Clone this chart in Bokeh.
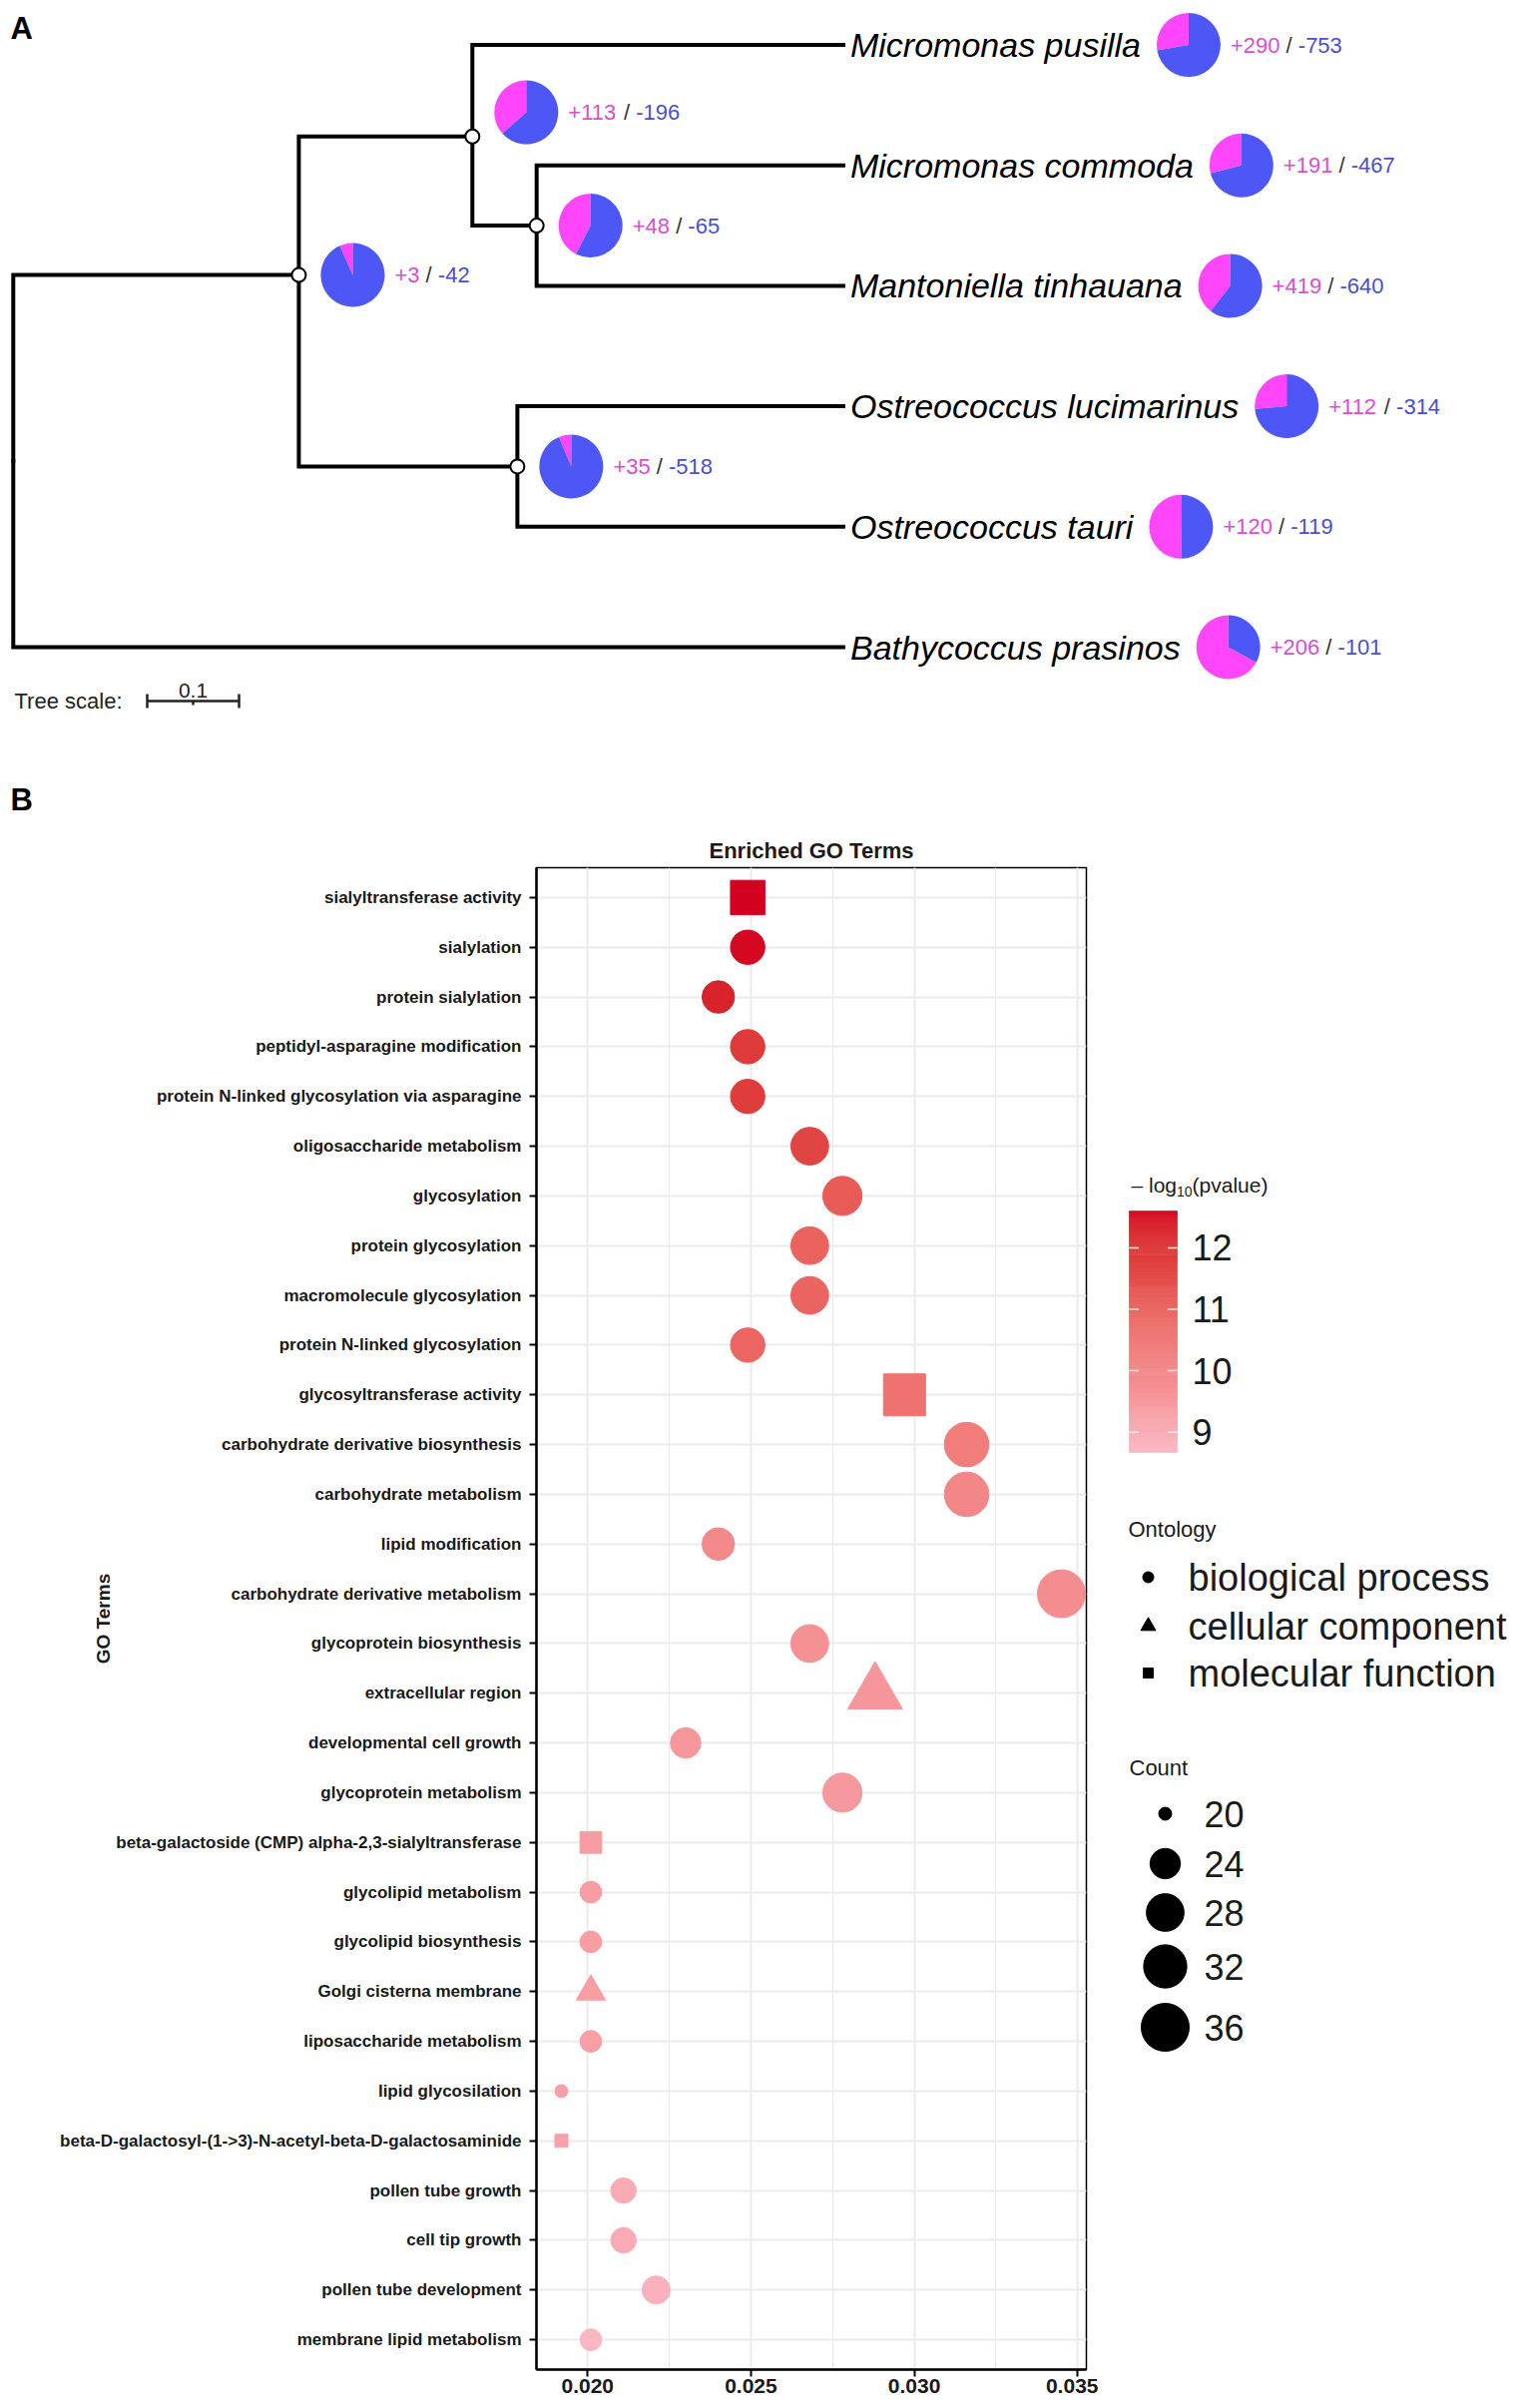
import math
import numpy as np
from bokeh.plotting import figure
from bokeh.models import (Range1d, FactorRange, LinearColorMapper, ColumnDataSource,
                          SingleIntervalTicker, NumeralTickFormatter)
from bokeh.layouts import column, row
from bokeh.transform import transform
from bokeh.core.properties import value
from bokeh.embed import file_html
from bokeh.resources import INLINE

FONT = "Liberation Sans"

# ======================= Panel A data =======================
tip_names = ["Micromonas pusilla", "Micromonas commoda", "Mantoniella tinhauana",
             "Ostreococcus lucimarinus", "Ostreococcus tauri", "Bathycoccus prasinos"]
tip_gain = [290, 191, 419, 112, 120, 206]
tip_loss = [753, 467, 640, 314, 119, 101]
tip_depth = [0.904, 0.904, 0.904, 0.904, 0.904, 0.904]
tip_row = [0, 1, 2, 3, 4, 5]

node_names = ["N1", "N2", "N3", "N4"]
node_gain = [3, 113, 48, 35]
node_loss = [42, 196, 65, 518]
node_depth = [0.311, 0.500, 0.570, 0.549]
node_row = [1.91, 0.76, 1.50, 3.50]
node_pie_dy = [0.0, -0.20, 0.0, 0.0]

parent = {"N1": "root", "N2": "N1", "N3": "N2", "N4": "N1",
          "Micromonas pusilla": "N2", "Micromonas commoda": "N3",
          "Mantoniella tinhauana": "N3", "Ostreococcus lucimarinus": "N4",
          "Ostreococcus tauri": "N4", "Bathycoccus prasinos": "root"}
tree_scale_value = 0.1

# ======================= Panel B data =======================
terms = ["sialyltransferase activity", "sialylation", "protein sialylation",
         "peptidyl-asparagine modification", "protein N-linked glycosylation via asparagine",
         "oligosaccharide metabolism", "glycosylation", "protein glycosylation",
         "macromolecule glycosylation", "protein N-linked glycosylation",
         "glycosyltransferase activity", "carbohydrate derivative biosynthesis",
         "carbohydrate metabolism", "lipid modification", "carbohydrate derivative metabolism",
         "glycoprotein biosynthesis", "extracellular region", "developmental cell growth",
         "glycoprotein metabolism", "beta-galactoside (CMP) alpha-2,3-sialyltransferase",
         "glycolipid metabolism", "glycolipid biosynthesis", "Golgi cisterna membrane",
         "liposaccharide metabolism", "lipid glycosilation",
         "beta-D-galactosyl-(1->3)-N-acetyl-beta-D-galactosaminide",
         "pollen tube growth", "cell tip growth", "pollen tube development",
         "membrane lipid metabolism"]
gene_ratio = [0.0249, 0.0249, 0.0240, 0.0249, 0.0249, 0.0268, 0.0278, 0.0268, 0.0268, 0.0249,
              0.0297, 0.0316, 0.0316, 0.0240, 0.0345, 0.0268, 0.0288, 0.0230, 0.0278, 0.0201,
              0.0201, 0.0201, 0.0201, 0.0201, 0.0192, 0.0192, 0.0211, 0.0211, 0.0221, 0.0201]
count = [26, 26, 25, 26, 26, 28, 29, 28, 28, 26,
         31, 33, 33, 25, 36, 28, 30, 24, 29, 21,
         21, 21, 21, 21, 20, 20, 22, 22, 23, 21]
neglog_p = [12.60, 12.55, 12.30, 11.90, 11.85, 11.70, 11.20, 11.00, 10.95, 10.90,
            10.60, 10.30, 10.05, 9.95, 9.85, 9.75, 9.60, 9.55, 9.50, 9.42,
            9.40, 9.38, 9.36, 9.34, 9.30, 9.28, 9.00, 8.98, 8.80, 8.67]
BP, CC, MF = "biological process", "cellular component", "molecular function"
ontology = [MF, BP, BP, BP, BP, BP, BP, BP, BP, BP,
            MF, BP, BP, BP, BP, BP, CC, BP, BP, MF,
            BP, BP, CC, BP, BP, MF, BP, BP, BP, BP]
ontology_levels = [BP, CC, MF]
colorbar_ticks = [9, 10, 11, 12]
count_breaks = [20, 24, 28, 32, 36]

# ======================= helpers =======================
ARIAL = {' ': 278, '+': 584, '-': 333, '/': 278, '(': 333, ')': 333, '–': 556, '.': 278,
         ':': 278, ',': 278}
for ch in "0123456789":
    ARIAL[ch] = 556
for ch, w in zip("abcdefghijklmnopqrstuvwxyz",
                 [556, 556, 500, 556, 556, 278, 556, 556, 222, 222, 500, 222, 833, 556, 556,
                  556, 556, 333, 500, 278, 556, 500, 722, 500, 500, 500]):
    ARIAL[ch] = w
for ch, w in zip("ABCDEFGHIJKLMNOPQRSTUVWXYZ",
                 [667, 667, 722, 722, 667, 611, 778, 722, 278, 500, 667, 556, 833, 722, 778,
                  667, 778, 722, 667, 611, 722, 667, 944, 667, 667, 611]):
    ARIAL[ch] = w


def tw(s, size):
    return sum(ARIAL.get(c, 556) for c in s) / 1000.0 * size


def _lin(c):
    c = c / 255.0
    return c / 12.92 if c <= 0.04045 else ((c + 0.055) / 1.055) ** 2.4


def _gam(c):
    c = 12.92 * c if c <= 0.0031308 else 1.055 * c ** (1 / 2.4) - 0.055
    return int(round(min(max(c, 0), 1) * 255))


M = np.array([[0.4124, 0.3576, 0.1805], [0.2126, 0.7152, 0.0722], [0.0193, 0.1192, 0.9505]])
Minv = np.linalg.inv(M)
WHITE = np.array([0.95047, 1.0, 1.08883])


def hex2lab(h):
    rgb = np.array([_lin(int(h[i:i + 2], 16)) for i in (1, 3, 5)])
    xyz = M @ rgb / WHITE
    f = np.where(xyz > 0.008856, np.cbrt(xyz), 7.787 * xyz + 16 / 116)
    return np.array([116 * f[1] - 16, 500 * (f[0] - f[1]), 200 * (f[1] - f[2])])


def lab2hex(lab):
    fy = (lab[0] + 16) / 116
    fx = fy + lab[1] / 500
    fz = fy - lab[2] / 200
    f = np.array([fx, fy, fz])
    xyz = np.where(f ** 3 > 0.008856, f ** 3, (f - 16 / 116) / 7.787) * WHITE
    rgb = Minv @ xyz
    return "#%02x%02x%02x" % tuple(_gam(c) for c in rgb)


LOW_COL, HIGH_COL = "#F9B6C3", "#D4001F"
la, lb = hex2lab(LOW_COL), hex2lab(HIGH_COL)
palette = [lab2hex(la + (lb - la) * t) for t in np.linspace(0, 1, 256)]
vmin, vmax = min(neglog_p), max(neglog_p)
mapper = LinearColorMapper(palette=palette, low=vmin, high=vmax)

cmin, cmax = min(count), max(count)


def size_of(c):
    return 13 + 35 * math.sqrt((c - cmin) / (cmax - cmin))


marker_of = {BP: "circle", CC: "triangle", MF: "square"}
marker_scale = {"circle": 1.0, "square": 1.0, "triangle": 1.35}

PINK, BLUE = "#FF46FA", "#4C57F5"
TPINK, TBLUE = "#D94ED3", "#4B4FCB"
INK = "#1a1a1a"

# ======================= Panel A figure =======================
WA, HA = 1535, 818
PXU, PXR = 920.0, 120.7            # pixels per tree unit / per row
xa0 = -12.8 / PXU
ya1 = 44.5 / PXR
pA = figure(width=WA, height=HA, output_backend="svg", toolbar_location=None,
            x_range=Range1d(xa0, xa0 + WA / PXU), y_range=Range1d(ya1 - HA / PXR, ya1),
            x_axis_type=None, y_axis_type=None, min_border=0)
pA.outline_line_color = None
pA.grid.visible = False


def rx(px):
    return xa0 + px / PXU


def ry(py):
    return ya1 - py / PXR


depth = {"root": 0.0}
rows = {}
for n, d, r in zip(node_names, node_depth, node_row):
    depth[n], rows[n] = d, r
for n, d, r in zip(tip_names, tip_depth, tip_row):
    depth[n], rows[n] = d, r
rows["root"] = (rows["N1"] + rows["Bathycoccus prasinos"]) / 2

xs, ys = [], []
for child, par in parent.items():
    xs.append([depth[par], depth[par], depth[child]])
    ys.append([-rows[par], -rows[child], -rows[child]])
pA.multi_line(xs, ys, line_color="black", line_width=4, line_join="miter", line_cap="square")

pA.scatter(node_depth, [-r for r in node_row], size=14, fill_color="white",
           line_color="black", line_width=2)

pA.text(tip_depth, [-r for r in tip_row], text=tip_names, x_offset=7,
        text_font=value(FONT), text_font_style="italic", text_font_size="34px",
        text_baseline="middle", text_align="left", text_color="black")

pie_x = [d + (7 + tw(n, 34) + 48) / PXU for d, n in zip(tip_depth, tip_names)]
pie_y = [-r for r in tip_row]
pie_g, pie_l = list(tip_gain), list(tip_loss)
pie_x += [d + 54 / PXU for d in node_depth]
pie_y += [-(r + dy) for r, dy in zip(node_row, node_pie_dy)]
pie_g += node_gain
pie_l += node_loss
frac = [g / (g + l) for g, l in zip(pie_g, pie_l)]
a_mid = [math.pi / 2 + 2 * math.pi * f for f in frac]
pie_src = ColumnDataSource(dict(x=pie_x, y=pie_y, a0=[math.pi / 2] * len(frac), a1=a_mid,
                                a2=[math.pi / 2 + 2 * math.pi] * len(frac)))
pA.wedge(x="x", y="y", radius=32, radius_units="screen", start_angle="a0", end_angle="a1",
         direction="anticlock", fill_color=PINK, line_color=None, source=pie_src)
pA.wedge(x="x", y="y", radius=32, radius_units="screen", start_angle="a1", end_angle="a2",
         direction="anticlock", fill_color=BLUE, line_color=None, source=pie_src)

gs = ["+%d" % g for g in pie_g]
ls = ["-%d" % l for l in pie_l]
FS = 22
off_g = [42] * len(gs)
off_s = [42 + tw(g + " ", FS) for g in gs]
off_l = [42 + tw(g + " / ", FS) for g in gs]
lab_src = ColumnDataSource(dict(x=pie_x, y=pie_y, g=gs, l=ls, s=["/"] * len(gs),
                                og=off_g, os=off_s, ol=off_l))
common = dict(text_font=value(FONT), text_font_size="%dpx" % FS, text_baseline="middle",
              text_align="left", source=lab_src)
pA.text(x="x", y="y", text="g", x_offset="og", text_color=TPINK, **common)
pA.text(x="x", y="y", text="s", x_offset="os", text_color="#333333", **common)
pA.text(x="x", y="y", text="l", x_offset="ol", text_color=TBLUE, **common)

pA.text([rx(10)], [ry(28)], text=["A"], text_font=value(FONT), text_font_style="bold",
        text_font_size="31px", text_baseline="middle", text_color="black")
pA.text([rx(10)], [ry(801)], text=["B"], text_font=value(FONT), text_font_style="bold",
        text_font_size="31px", text_baseline="middle", text_color="black")
pA.text([rx(14)], [ry(702)], text=["Tree scale:"], text_font=value(FONT),
        text_font_size="22px", text_baseline="middle", text_color="#222222")
sb0 = rx(147)
sby = ry(702)
tk = 7 / PXR
pA.segment([sb0, sb0, sb0 + tree_scale_value, sb0 + tree_scale_value / 2],
           [sby, sby - tk, sby - tk, sby],
           [sb0 + tree_scale_value, sb0, sb0 + tree_scale_value, sb0 + tree_scale_value / 2],
           [sby, sby + tk, sby + tk, sby - 4 / PXR], line_color="#222222", line_width=2.5)
pA.text([sb0 + tree_scale_value / 2], [sby], text=["%g" % tree_scale_value], y_offset=-4,
        text_font=value(FONT), text_font_size="21px", text_baseline="bottom",
        text_align="center", text_color="#222222")

# ======================= Panel B figure =======================
TOPB = HA
WB, HB = 1100, 2413 - HA
BT, BB = 869 - TOPB, 2413 - 2374          # top / bottom borders (frame 869..2374)
span = max(gene_ratio) - min(gene_ratio)
x_lo, x_hi = min(gene_ratio) - 0.05 * span, max(gene_ratio) + 0.05 * span
markers = [marker_of[o] for o in ontology]
sizes = [size_of(c) * marker_scale[m] for c, m in zip(count, markers)]
src = ColumnDataSource(dict(term=terms, ratio=gene_ratio, count=count, logp=neglog_p,
                            ont=ontology, marker=markers, size=sizes))

pB = figure(width=WB, height=HB, output_backend="svg", toolbar_location=None,
            x_range=Range1d(x_lo, x_hi),
            y_range=FactorRange(factors=list(reversed(terms)), range_padding=0.1,
                                range_padding_units="absolute"),
            min_border_left=537, min_border_right=12, min_border_top=BT,
            min_border_bottom=BB, title="Enriched GO Terms")
pB.title.align = "center"
pB.title.text_font = FONT
pB.title.text_font_size = "22px"
pB.title.text_font_style = "bold"
pB.title.text_color = INK
pB.title.standoff = 10
pB.outline_line_color = "black"
pB.outline_line_width = 1.5

pB.xaxis.ticker = SingleIntervalTicker(interval=0.005, num_minor_ticks=2)
pB.xaxis.formatter = NumeralTickFormatter(format="0.000")
for ax in (pB.xaxis[0], pB.yaxis[0]):
    ax.axis_line_width = 2.5
    ax.axis_line_color = "black"
    ax.major_tick_line_color = "black"
    ax.major_tick_line_width = 2
    ax.major_tick_out = 7
    ax.major_tick_in = 0
    ax.minor_tick_line_color = None
    ax.major_label_text_font = FONT
    ax.major_label_text_font_style = "bold"
    ax.major_label_text_color = INK
pB.xaxis.major_label_text_font_size = "21px"
pB.xaxis.major_label_standoff = 2
pB.yaxis.major_label_text_font_size = "17px"
pB.yaxis.major_label_standoff = 8
pB.yaxis.axis_label = "GO Terms"
pB.yaxis.axis_label_text_font = FONT
pB.yaxis.axis_label_text_font_size = "19px"
pB.yaxis.axis_label_text_font_style = "bold"
pB.yaxis.axis_label_text_color = INK
pB.yaxis.axis_label_standoff = -57

pB.xgrid.grid_line_color = "#EBEBEB"
pB.xgrid.grid_line_width = 2
pB.xgrid.minor_grid_line_color = "#EBEBEB"
pB.xgrid.minor_grid_line_width = 1
pB.ygrid.grid_line_color = "#EBEBEB"
pB.ygrid.grid_line_width = 2

pB.scatter(x="ratio", y="term", source=src, marker="marker", size="size",
           fill_color=transform("logp", mapper), line_color=transform("logp", mapper),
           line_width=1)

# ======================= Legend figure (reference pixel frame) =======================
WL = 1535 - WB
FR_T, FR_B = 869, 2374
L = figure(width=WL, height=HB, output_backend="svg", toolbar_location=None,
           x_range=Range1d(1100, 1535), y_range=Range1d(FR_B, FR_T),
           x_axis_type=None, y_axis_type=None, min_border_left=0, min_border_right=0,
           min_border_top=BT, min_border_bottom=BB)
L.outline_line_color = None
L.grid.visible = False

CB_TOP, CB_BOT, CB_L, CB_R = 1213, 1455, 1131, 1179
ppv = (CB_BOT - CB_TOP) / (vmax - vmin)
L.extra_y_ranges = {"cb": Range1d(vmin - (FR_B - CB_BOT) / ppv, vmax + (CB_TOP - FR_T) / ppv)}
edges = np.linspace(vmin, vmax, 241)
cb_src = ColumnDataSource(dict(b=edges[:-1], t=edges[1:], v=(edges[:-1] + edges[1:]) / 2))
L.quad(left=CB_L, right=CB_R, bottom="b", top="t", source=cb_src, y_range_name="cb",
       fill_color=transform("v", mapper), line_color=transform("v", mapper), line_width=0.6)
tkw = (CB_R - CB_L) / 5
L.segment([CB_L] * 4 + [CB_R - tkw] * 4, colorbar_ticks * 2, [CB_L + tkw] * 4 + [CB_R] * 4,
          colorbar_ticks * 2, y_range_name="cb", line_color="white", line_width=1.5,
          line_alpha=0.85)
L.text([CB_R] * 4, colorbar_ticks, text=[str(t) for t in colorbar_ticks], x_offset=15,
       y_range_name="cb", text_font=value(FONT), text_font_size="36px",
       text_baseline="middle", text_color=INK)

t1, t2 = "– log", "10"
L.text([1133] * 3, [1187] * 3, text=[t1, t2, "(pvalue)"],
       x_offset=[0, tw(t1, 21), tw(t1, 21) + tw(t2, 14)], y_offset=[0, 6, 0],
       text_font_size=["21px", "14px", "21px"], text_font=value(FONT),
       text_baseline="middle", text_color=INK)

L.text([1130, 1131], [1532, 1771], text=["Ontology", "Count"], text_font=value(FONT),
       text_font_size="22px", text_baseline="middle", text_color=INK)
oy = [1580, 1629, 1676]
L.scatter([1150] * 3, oy, marker=[marker_of[o] for o in ontology_levels], size=[11, 15, 10],
          color="black")
L.text([1190] * 3, oy, text=ontology_levels, text_font=value(FONT), text_font_size="38px",
       text_baseline="middle", text_color=INK)
cy = [1817, 1867, 1916, 1970, 2031]
L.scatter([1167] * 5, cy, size=[size_of(c) for c in count_breaks], color="black")
L.text([1206] * 5, cy, text=[str(c) for c in count_breaks], text_font=value(FONT),
       text_font_size="36px", text_baseline="middle", text_color=INK)

layout = column(pA, row(pB, L))
open("out.html", "w").write(file_html(layout, INLINE))
